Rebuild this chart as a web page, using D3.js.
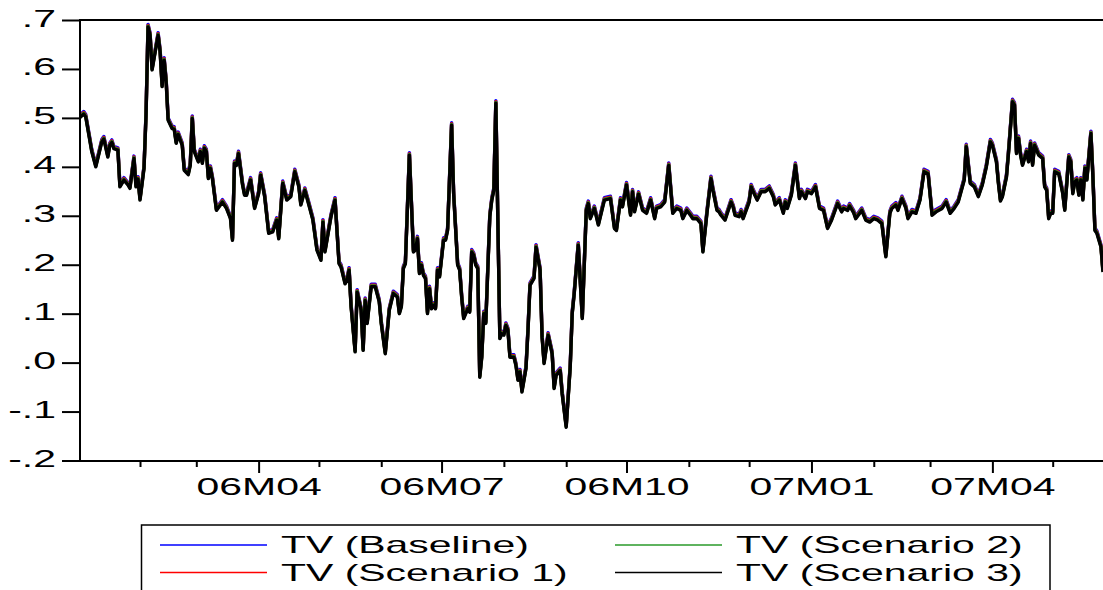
<!DOCTYPE html>
<head>
<meta charset="utf-8">
<script src="https://cdn.jsdelivr.net/npm/d3@7"></script>
<style>
body { margin: 0; background: #fff; }
text { font-family: "Liberation Sans", Arial, sans-serif; font-size: 23px; fill: #000; }
</style>
</head>
<body>
<script>
// observation day, counted from 2006-01-02
var days = [0,2,3,6,8,11,12,14,15,16, 17,19,20,22,24,25,27,28,29,30,
  32,33,34,35,36,39,40,41,42,43, 44,46,47,48,49,51,52,54,55,56,
  57,59,60,61,62,63,64,65,66,68, 70,71,73,75,76,77,78,79,81,82,
  83,85,87,89,90,92,94,96,98,99, 101,103,105,107,109,110,112,114,116,118,
  120,121,122,125,127,129,130,132,133,134, 135,137,138,140,141,142,143,145,147,149,
  150,152,154,156,158,159,160,161,162,164, 166,167,168,169,170,171,172,173,174,175,
  176,177,178,179,181,182,183,185,186,188, 189,190,191,193,194,195,196,197,198,199,
  200,201,202,204,205,206,207,209,210,211, 212,213,214,216,217,218,219,220,222,223,
  224,225,226,227,229,230,231,233,235,236, 237,239,240,242,244,245,246,248,250,252,
  253,254,256,258,260,261,264,266,267,269, 270,272,274,275,276,278,280,282,284,286,
  287,289,291,293,295,297,299,300,302,304, 305,307,309,310,312,314,315,317,318,319,
  321,324,325,326,328,329,330,333,334,335, 337,339,341,343,345,346,348,350,351,352,
  354,356,358,359,361,362,364,366,368,370, 372,374,377,379,380,382,383,385,386,389,
  391,393,395,397,399,401,403,404,406,407, 409,411,412,414,416,418,420,422,424,426,
  429,431,433,435,437,440,441,443,445,447, 449,451,453,454,456,457,458,459,461,462,
  464,465,466,467,468,469,471,472,473,474, 475,476,477,479,480,481,482,483,484,485,
  487,489,490,492,493,494,495,496,497,498, 499,500,501,503,504,505,506,508,509];

// TV (Scenario 3)
var tv = [.500,.508,.502,.431,.400,.451,.457,.420,.444,.450, .437,.434,.359,.373,.363,.356,.417,.359,.375,.332,
  .397,.506,.686,.669,.598,.669,.635,.564,.618,.574, .495,.478,.477,.448,.466,.444,.393,.384,.403,.499,
  .431,.410,.431,.407,.438,.431,.376,.397,.376,.311, .322,.328,.315,.294,.250,.407,.403,.427,.363,.342,
  .342,.373,.315,.345,.383,.339,.264,.267,.291,.253, .366,.332,.339,.390,.359,.322,.352,.322,.291,.230,
  .209,.287,.226,.298,.332,.202,.195,.161,.168,.189, .114,.022,.144,.107,.025,.127,.080,.155,.155,.124,
  .080,.018,.107,.141,.134,.100,.114,.192,.202,.424, .226,.230,.253,.182,.199,.178,.172,.100,.151,.110,
  .117,.110,.189,.175,.250,.250,.270,.485,.345,.199, .189,.134,.090,.110,.103,.226,.219,.199,.192,-.030,
  .011,.100,.080,.298,.332,.352,.530,.049,.059,.056, .076,.066,.011,.011,-.006,-.036,-.019,-.060,-.012,.066,
  .158,.165,.172,.236,.189,.052,-.002,.056,.018,-.053, -.026,-.016,-.064,-.132,-.009,.100,.141,.240,.090,.311,
  .325,.294,.315,.281,.315,.332,.335,.274,.270,.332, .318,.363,.301,.349,.308,.344,.311,.305,.332,.294,
  .315,.318,.328,.403,.305,.315,.311,.294,.311,.300, .294,.294,.284,.226,.305,.376,.352,.311,.308,.301,
  .291,.328,.318,.301,.298,.308,.294,.328,.359,.349, .332,.349,.349,.356,.339,.322,.332,.305,.328,.315,
  .342,.403,.335,.349,.335,.349,.345,.359,.315,.311, .274,.291,.325,.308,.315,.311,.320,.306,.294,.311,
  .291,.287,.294,.291,.284,.216,.305,.315,.322,.311, .335,.315,.294,.308,.305,.332,.390,.386,.301,.308,
  .315,.328,.305,.315,.328,.373,.441,.366,.359,.339, .363,.400,.451,.444,.410,.366,.330,.339,.379,.427,
  .533,.526,.427,.458,.424,.403,.431,.410,.448,.403, .444,.434,.424,.417,.359,.352,.294,.305,.305,.390,
  .386,.345,.311,.420,.410,.345,.369,.373,.342,.373, .332,.397,.373,.468,.379,.270,.264,.236,.185];

var seriesNames = ["TV (Baseline)", "TV (Scenario 1)", "TV (Scenario 2)", "TV (Scenario 3)"];
var seriesColors = ["#0000ff", "#ff0000", "#2a9a2a", "#000000"];
// how far each series sits above Scenario 3 in the picture
var seriesShift = [0.005, 0.003, 0.0015, 0];
var yTicks = [-0.2, -0.1, 0, 0.1, 0.2, 0.3, 0.4, 0.5, 0.6, 0.7];

var width = 1103, height = 590, stretch = 1.78;
var start = new Date(Date.UTC(2006, 0, 2));

var svg = d3.select("body").append("svg")
  .attr("width", width)
  .attr("height", height);

var x = d3.scaleUtc()
  .domain([start, new Date(Date.UTC(2007, 4, 1))])
  .range([79.7, 1052.7]);
var y = d3.scaleLinear().domain([-0.2, 0.7]).range([460.5, 20]);

// y axis
var fmt = d3.formatLocale({decimal: ".", thousands: ",", grouping: [3], currency: ["", ""], minus: "-"}).format(".1f");
var yAxis = svg.append("g")
  .attr("transform", "translate(80,0)")
  .call(d3.axisLeft(y).tickValues(yTicks).tickSize(18)
    .tickFormat(function(d) { return fmt(d).replace("0.", "."); }));
yAxis.select(".domain").remove();
yAxis.selectAll("line").attr("stroke", "#000").attr("stroke-width", 2);
yAxis.selectAll("text")
  .attr("x", 0).attr("dy", null)
  .attr("transform", "translate(-24,6) scale(" + stretch + ",1)")
  .attr("text-anchor", "end");

// x axis, one tick per month, labels every quarter
var months = d3.utcMonth.range(new Date(Date.UTC(2006, 1, 1)), new Date(Date.UTC(2007, 5, 1)));
function isMajor(d) { return d.getUTCMonth() % 3 == 0; }
var xAxis = svg.append("g")
  .attr("transform", "translate(0,461)")
  .call(d3.axisBottom(x).tickValues(months).tickSize(6)
    .tickFormat(function(d) {
      return isMajor(d) ? d3.utcFormat("%y")(d) + "M" + d3.utcFormat("%m")(d) : "";
    }));
xAxis.select(".domain").remove();
xAxis.selectAll("line")
  .attr("stroke", "#000").attr("stroke-width", 2)
  .attr("y2", function(d) { return isMajor(d) ? 12 : 6; });
xAxis.selectAll("text")
  .attr("y", 0).attr("dy", null)
  .attr("transform", "translate(0,34) scale(" + stretch + ",1)");

// the lines
svg.append("clipPath").attr("id", "plot")
  .append("rect").attr("x", 80).attr("y", 18).attr("width", 1040).attr("height", 445);

var line = d3.line()
  .x(function(d) { return x(d3.utcDay.offset(start, d[0])); })
  .y(function(d) { return y(d[1]); });

svg.append("g").attr("clip-path", "url(#plot)")
  .selectAll("path")
  .data(seriesShift).enter().append("path")
  .attr("fill", "none")
  .attr("stroke", function(d, i) { return seriesColors[i]; })
  .attr("stroke-width", 3.4)
  .attr("stroke-linejoin", "round")
  .attr("d", function(s) {
    return line(days.map(function(dd, k) { return [dd, tv[k] + s]; }));
  });

// frame (right side runs past the window)
svg.append("path")
  .attr("d", "M1120,20H80V461H1120")
  .attr("fill", "none")
  .attr("stroke", "#000")
  .attr("stroke-width", 2);

// legend
svg.append("rect")
  .attr("x", 141.5).attr("y", 525)
  .attr("width", 908.5).attr("height", 80)
  .attr("fill", "#fff").attr("stroke", "#000").attr("stroke-width", 1.5);

var legX = [160, 615], legY = [545, 572.5];
var leg = svg.selectAll(".leg")
  .data(seriesNames).enter().append("g")
  .attr("class", "leg")
  .attr("transform", function(d, i) {
    return "translate(" + legX[i >> 1] + "," + legY[i & 1] + ")";
  });
leg.append("line")
  .attr("x1", 0).attr("x2", 107)
  .attr("stroke", function(d, i) { return seriesColors[i]; })
  .attr("stroke-width", 1.5);
leg.append("text")
  .attr("transform", "translate(121,8) scale(" + stretch + ",1)")
  .text(function(d) { return d; });
</script>
</body>
